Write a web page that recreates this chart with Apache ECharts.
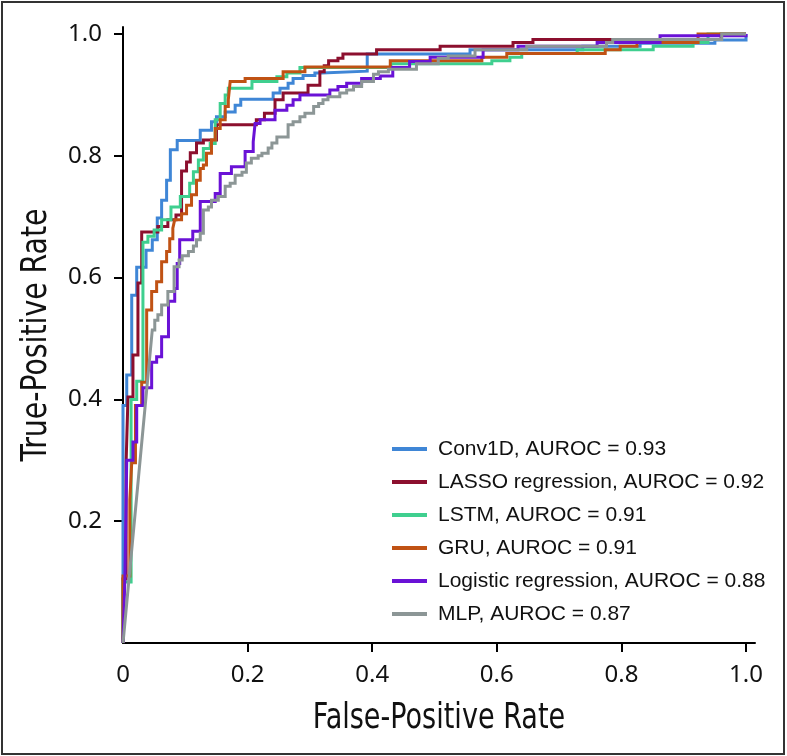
<!DOCTYPE html>
<html>
<head>
<meta charset="utf-8">
<script src="https://cdn.jsdelivr.net/npm/echarts@6/dist/echarts.min.js"></script>
<style>
html,body{margin:0;padding:0;background:#fff;}
#chart{width:787px;height:756px;}
</style>
</head>
<body>
<div id="chart"></div>
<script>
// ---- data ----
const modelNames = ['Conv1D', 'LASSO regression', 'LSTM', 'GRU', 'Logistic regression', 'MLP'];
const aurocValues = ['0.93', '0.92', '0.91', '0.91', '0.88', '0.87'];
const xTickValues = [0, 0.2, 0.4, 0.6, 0.8, 1.0];
const yTickValues = [0.2, 0.4, 0.6, 0.8, 1.0];
const xTitle = 'False-Positive Rate';
const yTitle = 'True-Positive Rate';

// ROC rise points [FPR, TPR]: first point joined straight from (0,0);
// afterwards the curve moves right at the previous TPR, then rises.
const conv1dRoc = [[0,0.39],[0.006,0.44],[0.014,0.571],[0.022,0.617],[0.037,0.645],[0.047,0.662],[0.055,0.698],[0.062,0.727],[0.07,0.76],[0.076,0.81],[0.087,0.825],[0.124,0.842],[0.142,0.856],[0.15,0.864],[0.164,0.872],[0.18,0.883],[0.189,0.893],[0.241,0.903],[0.252,0.911],[0.265,0.919],[0.273,0.927],[0.289,0.932],[0.308,0.936],[0.319,0.939],[0.392,0.967],[0.557,0.974],[0.738,0.98],[0.83,0.985],[0.95,0.99],[1,1]];
const lassoRoc = [[0,0.105],[0.005,0.296],[0.008,0.404],[0.016,0.473],[0.024,0.591],[0.03,0.675],[0.056,0.684],[0.072,0.695],[0.085,0.703],[0.094,0.775],[0.102,0.79],[0.108,0.805],[0.118,0.821],[0.129,0.826],[0.15,0.851],[0.214,0.859],[0.227,0.870],[0.244,0.892],[0.257,0.903],[0.297,0.916],[0.316,0.938],[0.323,0.948],[0.33,0.956],[0.345,0.96],[0.353,0.967],[0.407,0.974],[0.509,0.98],[0.626,0.986],[0.658,0.991],[0.96,1],[1,1]];
const lstmRoc = [[0,0.1],[0.013,0.40],[0.022,0.43],[0.032,0.658],[0.04,0.668],[0.05,0.678],[0.062,0.695],[0.077,0.716],[0.092,0.733],[0.107,0.755],[0.113,0.774],[0.121,0.793],[0.129,0.812],[0.14,0.82],[0.148,0.859],[0.156,0.886],[0.164,0.9],[0.169,0.911],[0.207,0.922],[0.247,0.93],[0.263,0.936],[0.284,0.945],[0.43,0.951],[0.592,0.956],[0.621,0.962],[0.64,0.968],[0.729,0.974],[0.851,0.98],[0.915,0.986],[0.939,1],[1,1]];
const gruRoc = [[0,0.11],[0.011,0.235],[0.014,0.296],[0.02,0.39],[0.03,0.428],[0.038,0.547],[0.046,0.577],[0.054,0.593],[0.062,0.626],[0.07,0.643],[0.075,0.664],[0.08,0.681],[0.083,0.695],[0.094,0.705],[0.102,0.719],[0.11,0.736],[0.118,0.76],[0.124,0.779],[0.129,0.785],[0.134,0.804],[0.142,0.826],[0.148,0.845],[0.156,0.859],[0.164,0.881],[0.169,0.892],[0.172,0.922],[0.196,0.927],[0.257,0.938],[0.292,0.946],[0.429,0.956],[0.576,0.962],[0.616,0.968],[0.774,0.974],[0.798,0.98],[0.825,0.986],[0.923,1],[1,1]];
const logisticRoc = [[0.003,0.105],[0.006,0.3],[0.016,0.33],[0.022,0.39],[0.032,0.419],[0.046,0.461],[0.054,0.47],[0.062,0.503],[0.073,0.561],[0.083,0.582],[0.087,0.623],[0.091,0.662],[0.112,0.676],[0.124,0.725],[0.148,0.738],[0.156,0.771],[0.174,0.782],[0.196,0.807],[0.209,0.823],[0.212,0.853],[0.22,0.859],[0.244,0.875],[0.263,0.883],[0.273,0.892],[0.284,0.9],[0.332,0.908],[0.345,0.914],[0.359,0.919],[0.383,0.927],[0.413,0.931],[0.433,0.945],[0.46,0.955],[0.493,0.962],[0.578,0.974],[0.634,0.98],[0.761,0.986],[0.862,0.997],[1,1]];
const mlpRoc = [[0.047,0.514],[0.051,0.53],[0.056,0.539],[0.062,0.555],[0.072,0.577],[0.082,0.618],[0.09,0.629],[0.095,0.636],[0.105,0.643],[0.113,0.652],[0.118,0.662],[0.124,0.673],[0.129,0.711],[0.137,0.716],[0.142,0.727],[0.153,0.733],[0.164,0.75],[0.172,0.755],[0.18,0.768],[0.191,0.773],[0.198,0.788],[0.206,0.796],[0.217,0.8],[0.223,0.804],[0.233,0.813],[0.239,0.821],[0.247,0.831],[0.265,0.851],[0.273,0.856],[0.284,0.864],[0.292,0.87],[0.306,0.881],[0.314,0.886],[0.321,0.892],[0.329,0.897],[0.348,0.903],[0.359,0.908],[0.37,0.914],[0.383,0.922],[0.402,0.934],[0.41,0.938],[0.426,0.942],[0.471,0.951],[0.506,0.96],[0.522,0.964],[0.565,0.974],[0.648,0.98],[0.776,0.986],[0.786,0.991],[0.961,1],[1,1]];

const seriesData = [conv1dRoc, lassoRoc, lstmRoc, gruRoc, logisticRoc, mlpRoc];
const colors = ['#3f86d6', '#8c0f2e', '#3fcf8f', '#c05214', '#6a12d6', '#8c9696'];

function buildPath(rises) {
  const pts = [[0, 0], rises[0]];
  for (let i = 1; i < rises.length; i++) {
    const prevY = pts[pts.length - 1][1];
    pts.push([rises[i][0], prevY]);
    pts.push(rises[i]);
  }
  return pts;
}

const legendNames = modelNames.map((n, i) => n + ', AUROC = ' + aurocValues[i]);
const titleFont = "'Liberation Sans Narrow', 'DejaVu Sans Condensed', sans-serif";

const chart = echarts.init(document.getElementById('chart'), null, {renderer: 'canvas'});
chart.setOption({
  animation: false,
  backgroundColor: '#fff',
  color: colors,
  graphic: [{
    type: 'rect', shape: {x: 2, y: 2, width: 782, height: 752},
    style: {fill: 'none', stroke: '#333', lineWidth: 2}, silent: true
  }, {
    type: 'text', x: 439, y: 719, scaleX: 0.86, silent: true,
    style: {text: xTitle, font: '35px ' + titleFont, fill: '#111', align: 'center', verticalAlign: 'middle'}
  }, {
    type: 'text', x: 37, y: 335, rotation: Math.PI / 2, scaleX: 0.9, silent: true,
    style: {text: yTitle, font: '35px ' + titleFont, fill: '#111', align: 'center', verticalAlign: 'middle'}
  }],
  grid: {left: 123, right: 32, top: 27, bottom: 113, containLabel: false},
  legend: {
    orient: 'vertical', left: 392, top: 437, padding: 0,
    itemWidth: 35, itemHeight: 4, itemGap: 9, icon: 'rect',
    data: legendNames,
    textStyle: {fontFamily: "'Liberation Sans', Arial, sans-serif", fontSize: 21, color: '#111', lineHeight: 24, padding: [0, 0, 0, 6]}
  },
  xAxis: {
    type: 'value', min: 0, max: 1.0144,
    axisLine: {show: true, lineStyle: {color: '#000', width: 2}},
    axisTick: {show: true, length: 9, lineStyle: {color: '#000', width: 2}, customValues: xTickValues.slice(1)},
    axisLabel: {customValues: xTickValues, margin: 20, fontFamily: "'Noto Sans', sans-serif", fontSize: 24, color: '#111',
      formatter: v => (v === 0 ? '0' : v.toFixed(1))},
    splitLine: {show: false}
  },
  yAxis: {
    type: 'value', min: 0, max: 1.0115,
    axisLine: {show: true, lineStyle: {color: '#000', width: 2}},
    axisTick: {show: true, length: 9, lineStyle: {color: '#000', width: 2}, customValues: yTickValues},
    axisLabel: {customValues: yTickValues, margin: 21, fontFamily: "'Noto Sans', sans-serif", fontSize: 24, color: '#111',
      formatter: v => v.toFixed(1)},
    splitLine: {show: false}
  },
  series: seriesData.map((d, i) => ({
    name: legendNames[i],
    type: 'line',
    data: buildPath(d),
    showSymbol: false,
    symbol: 'none',
    clip: false,
    lineStyle: {width: 3, color: colors[i], join: 'miter'},
    itemStyle: {color: colors[i]}
  }))
});
</script>
</body>
</html>
